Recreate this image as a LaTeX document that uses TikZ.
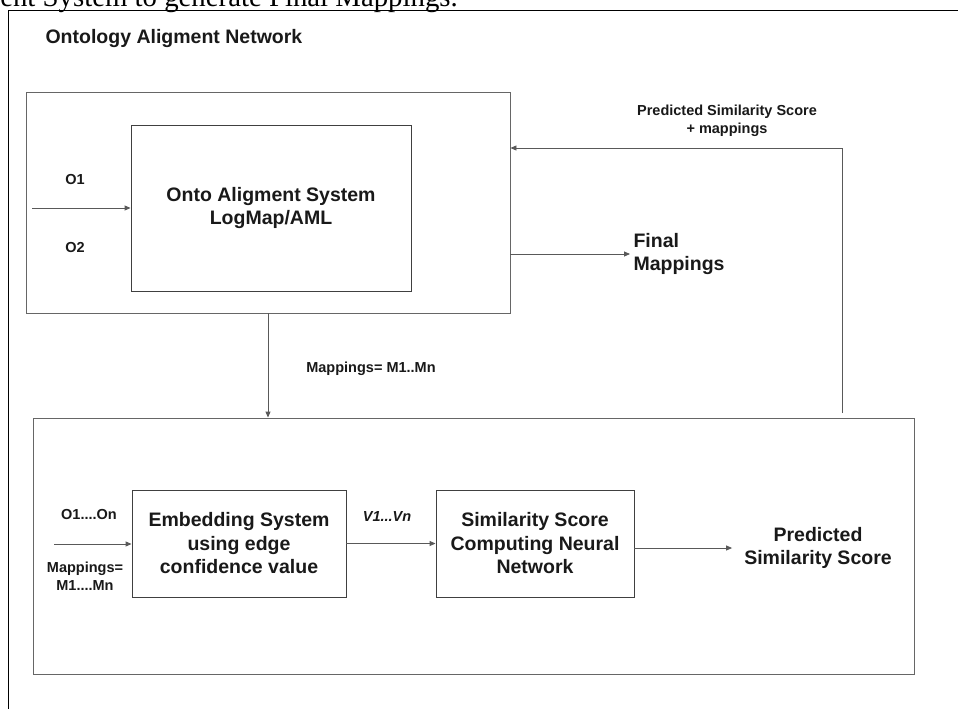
\documentclass[tikz,border=0pt]{standalone}
\usepackage{fontspec}
\setmainfont{Liberation Sans}
\newfontfamily\serifa{Liberation Serif}
\usetikzlibrary{arrows.meta,calc}
\begin{document}
\begin{tikzpicture}[x=1pt,y=-1pt,
  box/.style={draw=black!60, line width=0.9pt, rectangle, inner sep=0pt},
  inbox/.style={draw=black!75, line width=0.9pt, rectangle, inner sep=0pt},
  big/.style={font=\fontsize{19.5}{23.5}\selectfont\bfseries, align=center, text=black!90},
  small/.style={font=\fontsize{14.5}{18}\selectfont\bfseries, align=center, text=black!90},
  arr/.style={draw=black!65, line width=0.9pt, -{Triangle[length=6pt,width=5pt]}},
  ln/.style={draw=black!65, line width=0.9pt}]
\useasboundingbox (0,0) rectangle (958,709);
\fill[white] (0,0) rectangle (958,709);

% caption fragment cut off at the top
\node[font=\serifa\fontsize{28.8}{30}\selectfont, anchor=base east, inner sep=0pt] (cap) at (458,6.5) {ent System to generate Final Mappings.};

% outer frame
\coordinate (fbl) at (8,709);
\coordinate (ftl) at (8,10.5);
\coordinate (ftr) at (958,10.5);
\draw[black, line width=1pt] (fbl) -- (ftl) -- (ftr);

\node[big, anchor=west, font=\fontsize{19.5}{23}\selectfont\bfseries] (title) at (42,39) {Ontology Aligment Network};

% upper part
\node[box, minimum width=484pt, minimum height=221pt] (outerTop) at (268,202.5) {};
\node[inbox, minimum width=280pt, minimum height=166pt, big] (align) at (271,208) {Onto Aligment System\\LogMap/AML};
\node[small] (o1) at (75,180) {O1};
\node[small] (o2) at (75,248) {O2};
\coordinate (inA) at (32,208);
\draw[arr] (inA) -- (align.west);

\node[big, align=left, anchor=west] (final) at (630,254) {Final\\Mappings};
\draw[arr] (outerTop.east |- final.west) -- (final.west);

% feedback
\node[small] (fblabel) at (727,121) {Predicted Similarity Score\\+ mappings};
\coordinate (fbBot) at (842,413);
\coordinate (fbTop) at (842,148);
\draw[arr] (fbBot) -- (fbTop) -- (fbTop -| outerTop.east);

% lower part
\node[box, minimum width=881pt, minimum height=256pt] (outerBot) at (473.5,546) {};
\draw[arr] (outerTop.south) -- (outerTop.south |- outerBot.north);
\node[small] (maplabel) at (371,369) {Mappings= M1..Mn};

\node[inbox, minimum width=214pt, minimum height=107pt, big] (embed) at (239,543.5) {Embedding System\\using edge\\confidence value};
\node[inbox, minimum width=198pt, minimum height=107pt, big] (simnn) at (535,543.5) {Similarity Score\\Computing Neural\\Network};
\node[big, inner xsep=12pt] (pred) at (818,548) {Predicted\\Similarity Score};

\node[small] (on) at (89,515) {O1....On};
\node[small] (mn) at (85,576) {Mappings=\\M1....Mn};
\coordinate (inB) at (54,544);
\draw[arr] (inB) -- (inB -| embed.west);

\node[small, font=\fontsize{14.5}{18}\selectfont\bfseries\itshape] (vn) at (387,517) {V1...Vn};
\draw[arr] (embed.east) -- (simnn.west);
\draw[arr] (simnn.east |- pred.west) -- (pred.west);
\end{tikzpicture}
\end{document}
